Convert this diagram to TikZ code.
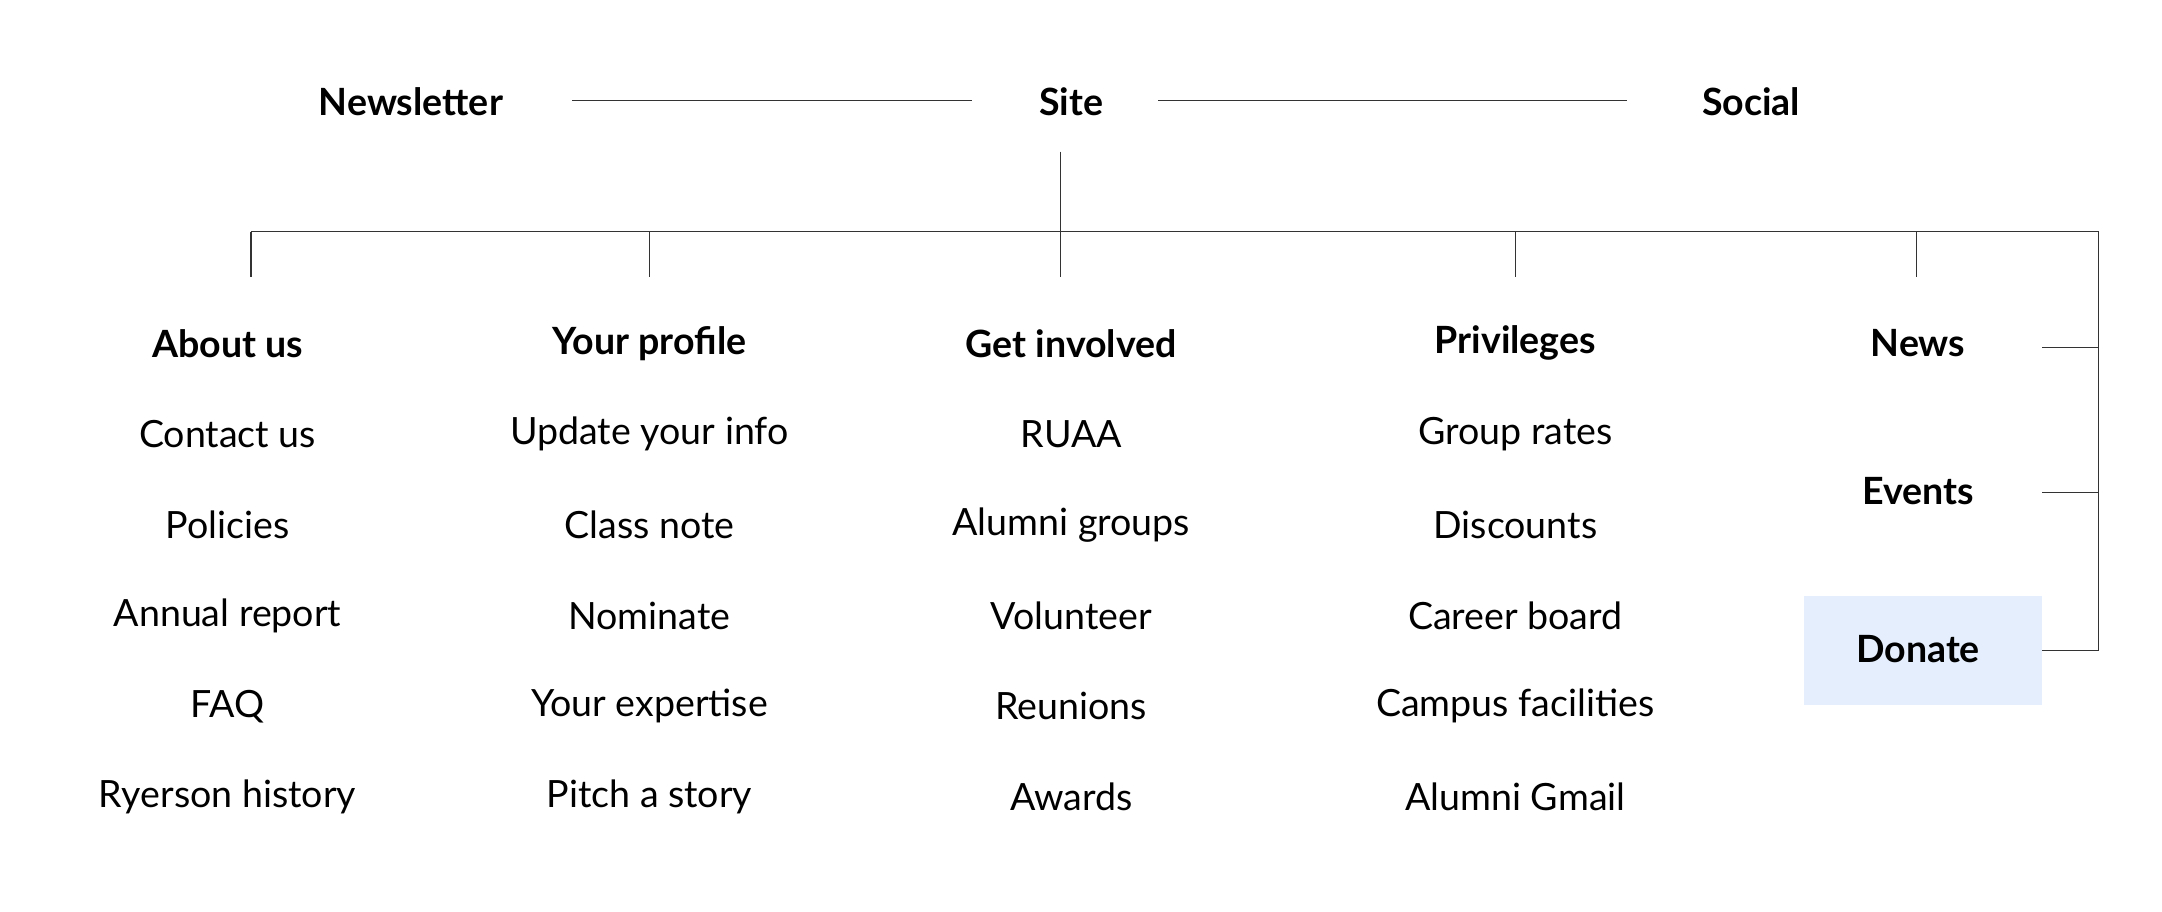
\documentclass[tikz,border=0pt]{standalone}
\usepackage{fontspec}
\setmainfont{Lato}
\begin{document}
\begin{tikzpicture}[x=0.02cm, y=-0.02cm]

% Styles
\tikzset{
	head/.style={font=\fontsize{15.5}{18}\selectfont\bfseries, inner sep=0pt},
	item/.style={font=\fontsize{15.5}{18}\selectfont, inner sep=0pt},
	link/.style={draw=black!80, line width=0.5pt},
}
\definecolor{donatebg}{RGB}{228,238,252}

\useasboundingbox (0,0) rectangle (1568,661);

% Top row
\node[head] (newsletter) at (298,74) {Newsletter};
\node[head] (site) at (777,74) {Site};
\node[head] (social) at (1270,74) {Social};
\coordinate (nl) at (415,73); \coordinate (nr) at (705,73);
\coordinate (sl) at (840,73); \coordinate (sr) at (1180,73);
\draw[link] (nl) -- (nr);
\draw[link] (sl) -- (sr);

% Tree from site
\coordinate (stop) at (769,110);
\coordinate (bus) at (769,168);
\draw[link] (stop) -- (bus);
\draw[link] (182,168) -- (1522,168) -- (1522,472);
\foreach \x in {182,471,769,1099,1390}
	\draw[link] (\x,168) -- (\x,201);

% Columns
\node[head] (about) at (165,249) {About us};
\node[head] (profile) at (471,249) {Your profile};
\node[head] (involved) at (777,249) {Get involved};
\node[head] (privileges) at (1099,249) {Privileges};

\foreach \t [count=\i] in {Contact us,Policies,Annual report,FAQ,Ryerson history}
	\node[item] (about\i) at (165,249+65.8*\i) {\t};
\foreach \t [count=\i] in {Update your info,Class note,Nominate,Your expertise,Pitch a story}
	\node[item] (profile\i) at (471,249+65.8*\i) {\t};
\foreach \t [count=\i] in {RUAA,Alumni groups,Volunteer,Reunions,Awards}
	\node[item] (involved\i) at (777,249+65.8*\i) {\t};
\foreach \t [count=\i] in {Group rates,Discounts,Career board,Campus facilities,Alumni Gmail}
	\node[item] (privileges\i) at (1099,249+65.8*\i) {\t};

% Right column
\fill[donatebg] (1308,432) rectangle (1481,511);
\node[head] (news) at (1391,249) {News};
\node[head] (events) at (1391,356) {Events};
\node[head] (donate) at (1391,471) {Donate};
\foreach \y in {252,357,472}
	\draw[link] (1481,\y) -- (1522,\y);

\end{tikzpicture}
\end{document}
